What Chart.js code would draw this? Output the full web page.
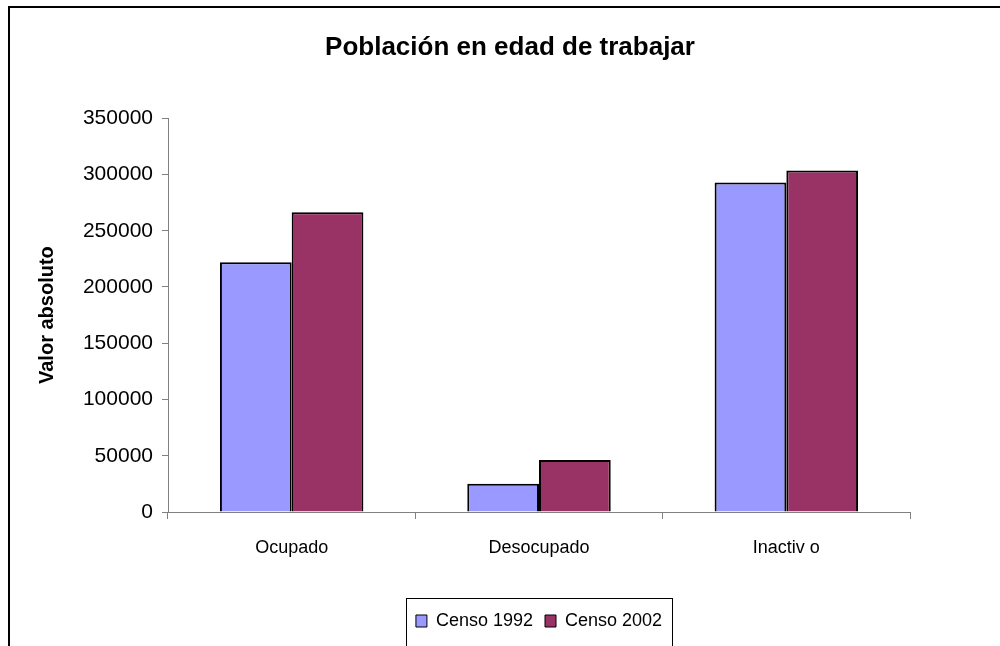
<!DOCTYPE html>
<html>
<head>
<meta charset="utf-8">
<script src="https://cdn.jsdelivr.net/npm/chart.js@4"></script>
<style>
  html, body { margin: 0; padding: 0; background: #fff; }
  #wrap { width: 1000px; height: 646px; }
</style>
</head>
<body>
<div id="wrap"><canvas id="chart" width="1000" height="646"></canvas></div>
<script>
const categories = ['Ocupado', 'Desocupado', 'Inactiv o'];
const censo1992 = [222000, 25000, 292800];
const censo2002 = [266500, 46200, 303600];
const yTicks = [0, 50000, 100000, 150000, 200000, 250000, 300000, 350000];

const FONT = '"Liberation Sans", Arial, sans-serif';

// white page with the outer frame (cut off right and bottom like the source)
const framePlugin = {
    id: 'frame',
    beforeDraw(chart) {
        const ctx = chart.ctx;
        ctx.save();
        ctx.fillStyle = '#fff';
        ctx.fillRect(0, 0, chart.width, chart.height);
        ctx.strokeStyle = '#000';
        ctx.lineWidth = 2;
        ctx.strokeRect(9, 7, chart.width + 20, chart.height + 20);
        ctx.restore();
    }
};

// box around the legend
const legendBoxPlugin = {
    id: 'legendBox',
    afterDraw(chart) {
        const hits = chart.legend.legendHitBoxes;
        if (!hits || !hits.length) return;
        const ctx = chart.ctx;
        const left = hits[0].left - 10;
        const last = hits[hits.length - 1];
        const right = last.left + last.width + 10;
        ctx.save();
        ctx.strokeStyle = '#000';
        ctx.lineWidth = 1;
        ctx.strokeRect(Math.round(left) + 0.5, 598.5, Math.round(right - left), 60);
        ctx.restore();
    }
};

new Chart(document.getElementById('chart'), {
    type: 'bar',
    data: {
        labels: categories,
        datasets: [
            {
                label: 'Censo 1992',
                data: censo1992,
                backgroundColor: '#9999FF',
                borderColor: '#000',
                borderWidth: 2,
                borderSkipped: 'bottom'
            },
            {
                label: 'Censo 2002',
                data: censo2002,
                backgroundColor: '#993366',
                borderColor: '#000',
                borderWidth: 2,
                borderSkipped: 'bottom'
            }
        ]
    },
    options: {
        responsive: false,
        animation: false,
        layout: { padding: { left: 20, right: 0, top: 0, bottom: 6 } },
        datasets: {
            bar: { categoryPercentage: 0.58, barPercentage: 1.0 }
        },
        scales: {
            x: {
                grid: {
                    display: true,
                    drawOnChartArea: false,
                    drawTicks: true,
                    tickLength: 7,
                    color: '#808080',
                    offset: true
                },
                border: { display: true, color: '#808080', width: 1 },
                ticks: {
                    color: '#000',
                    font: { family: FONT, size: 18 },
                    padding: 18,
                    maxRotation: 0
                },
                afterFit(scale) { scale.height = 88; }
            },
            y: {
                min: 0,
                max: 350000,
                afterBuildTicks(scale) {
                    scale.ticks = yTicks.map(v => ({ value: v }));
                },
                grid: {
                    display: true,
                    drawOnChartArea: false,
                    drawTicks: true,
                    tickLength: 6,
                    color: '#808080'
                },
                border: { display: true, color: '#808080', width: 1 },
                ticks: {
                    color: '#000',
                    font: { family: FONT, size: 21 },
                    padding: 9,
                    callback: v => String(v)
                },
                title: {
                    display: true,
                    text: 'Valor absoluto',
                    color: '#000',
                    font: { family: FONT, size: 20, weight: 'bold' },
                    padding: { top: 15, bottom: 0 }
                },
                afterFit(scale) { scale.width = 148; }
            },
            // empty right-hand spacer so the title centres like the source
            yRight: {
                position: 'right',
                display: true,
                grid: { display: false },
                border: { display: false },
                ticks: { display: false },
                afterFit(scale) { scale.width = 90; }
            }
        },
        plugins: {
            title: {
                display: true,
                text: 'Población en edad de trabajar',
                color: '#000',
                font: { family: FONT, size: 26, weight: 'bold' },
                padding: { top: 32, bottom: 55 }
            },
            legend: {
                position: 'bottom',
                fullSize: false,
                labels: {
                    color: '#000',
                    font: { family: FONT, size: 18 },
                    boxWidth: 11,
                    boxHeight: 12,
                    padding: 12,
                    generateLabels(chart) {
                        return chart.data.datasets.map((ds, i) => ({
                            text: ds.label,
                            fillStyle: ds.backgroundColor,
                            strokeStyle: '#000',
                            lineWidth: 1,
                            datasetIndex: i,
                            hidden: false
                        }));
                    }
                }
            },
            tooltip: { enabled: false }
        }
    },
    plugins: [framePlugin, legendBoxPlugin]
});
</script>
</body>
</html>
